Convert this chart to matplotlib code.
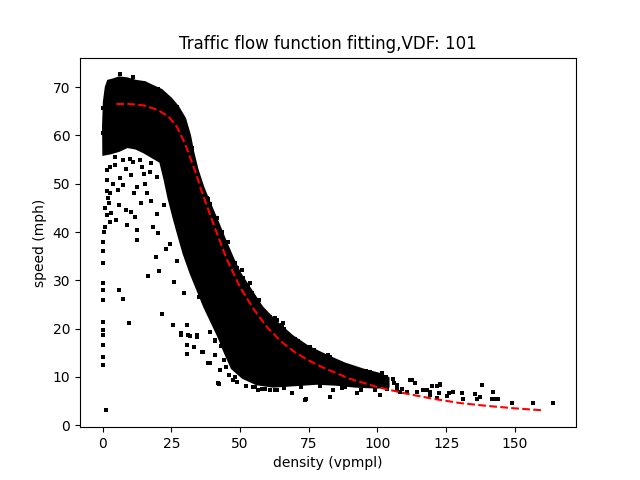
import matplotlib
matplotlib.use("Agg")
import matplotlib.pyplot as plt

# dense core of the measurements, traced as an outline (density, speed)
core_k = [0.5, 1.2, 2, 4, 6, 9, 12, 15.5, 18, 21.5, 25, 27.5, 30, 31.8, 33, 34.5,
          36.5, 39, 42, 44.5, 47.5, 50, 54, 58, 63, 69, 75, 82, 88, 95, 101, 104,
          104, 100, 92, 85, 78, 70, 62, 56, 51, 47, 44.5, 42, 39.5, 37, 34.5, 32,
          29.5, 27.5, 25.8, 24, 22.5, 21, 18, 15, 12, 9, 6, 3, 0.3, 0.2]
core_v = [67, 70, 71.3, 71.6, 72.0, 71.8, 71.3, 71.0, 70.3, 69.4, 67.6, 65.9, 63.5,
          60, 56.5, 53, 49.5, 46, 42, 38.5, 34.5, 31.5, 28, 24.5, 21.5, 18.5, 16.2,
          14.3, 12.8, 11.5, 10.6, 9.8,
          8.0, 7.8, 8.0, 8.4, 8.6, 8.3, 8.0, 8.5, 9.8, 11.8, 15, 18.5, 21.5, 24.5,
          28, 31.5, 35.5, 39.5, 43, 47, 51, 54.5, 55.5, 56.5, 57.3, 57.6, 56.8,
          56.3, 56.0, 62]

# scattered measurements outside the core
pts_k = [6.3, 0, 0, 0.3, 0.3, 0.2, 0.3, 0.2, 0.3, 0.2, 0.3, 0.2, 0.2, 0.2, 0.2, 1.2,
         1.5, 2.0, 2.5, 3.0, 2.7, 1.8, 1.0, 0.5, 0.8,
         1.5, 2.7, 4.5, 7.5, 9.9, 11.1, 8.7, 10.5, 6.3, 3.9, 7.5, 12.4, 15.4, 16.0,
         14.2, 17.8, 17.2, 19.7, 20.9, 2.7, 5.7, 1.5,
         6.0, 8.7, 10.5, 11.8, 12.4, 12.7, 11.4, 16.0, 19.7, 20.2, 19.3, 16.6, 6.0,
         7.5, 9.7, 21.7, 26.1, 27.2, 24.5, 29.7, 25.7, 28.4, 31.2, 34.2, 30.8,
         4.5, 13.5, 15.0, 17.5, 14.0, 9.0, 5.0, 18.5, 22.5, 23.0, 20.5,
         28.5, 31.8, 34.4, 30.8, 30.8, 33.3, 36.4, 39.0, 42.4, 42.7, 47.5, 40.9,
         42.1, 54.8, 56.6, 60.9, 63.3, 68.8, 74.0, 82.7, 88.2, 83.9, 92.4, 100.9,
         82.1, 75.4, 97.3, 101.5, 92.4, 107.0, 111.8, 108.2, 36.2, 38.4, 40.9, 39.0,
         65.1, 62.7, 85.7, 112.4, 107.0, 116.7, 122.7, 119.1, 73.6, 55.4, 59.1, 62.7,
         111.8, 113.7, 108.8, 110.6, 114.3, 117.9, 119.1, 119.7, 121.5, 122.7,
         121.8, 122.5, 125.2, 126.1, 127.4, 130.9, 131.2, 135.5, 136.1, 137.3,
         138.1, 141.9, 141.5, 142.8, 144.0, 149.1, 156.7, 164.0,
         35.5, 38.0, 41.5, 45.5, 49.0, 53.0, 57.0, 61.0, 66.0, 71.0, 77.0, 84.0,
         90.0, 96.0, 103.0, 105.5,
         53.6, 54.2, 63.3, 65.7, 75.4, 82.7, 51.2, 50.6, 39.0, 43.3, 48.1, 38.4,
         32.4, 31.2, 28.1, 24.5, 26.9, 15.4, 20.0, 11.0,
         44.0, 46.0, 49.0, 52.0, 45.0, 48.0, 43.0, 41.0, 58.0, 66.0, 72.0, 79.0,
         87.0, 94.0, 99.0, 103.5, 106.0, 96.0, 89.0, 70.0, 60.0, 56.0, 35.0, 33.5]
pts_v = [72.8, 65.6, 60.4, 38.0, 36.0, 33.5, 29.4, 28.0, 25.9, 21.3, 19.7, 18.6,
         16.6, 14.1, 12.4, 3.1,
         48.5, 47.0, 46.0, 44.0, 42.0, 43.5, 41.0, 40.0, 45.0,
         52.8, 53.5, 53.8, 54.9, 55.2, 54.5, 53.1, 51.8, 51.1, 50.0, 49.7, 49.3,
         50.0, 48.0, 53.5, 54.2, 52.4, 51.4, 54.9, 48.0, 48.7, 50.7,
         45.5, 44.6, 44.2, 43.1, 40.4, 38.3, 48.1, 48.0, 43.8, 39.7, 34.9, 30.8,
         28.1, 26.2, 21.1, 23.1, 29.7, 34.0, 37.6, 27.3, 20.8, 18.6, 18.6, 18.6,
         20.7,
         55.5, 55.0, 52.0, 46.5, 46.0, 41.5, 42.5, 41.0, 45.5, 36.5, 32.0,
         19.0, 18.5, 18.3, 16.6, 14.8, 16.1, 15.2, 12.8, 8.6, 11.4, 9.3, 14.5,
         8.8, 7.9, 7.2, 7.2, 7.4, 6.6, 5.4, 5.9, 7.9, 7.2, 6.6, 6.2,
         14.5, 16.1, 11.0, 10.8, 10.7, 8.3, 9.3, 6.9, 15.2, 12.8, 17.6, 19.3,
         20.7, 22.1, 11.7, 9.3, 7.6, 7.2, 8.3, 6.9, 5.3, 7.9, 7.6, 7.2,
         9.4, 8.8, 7.6, 6.9, 6.9, 7.4, 6.2, 8.1, 8.1, 8.5,
         5.7, 6.6, 6.0, 6.7, 6.8, 6.6, 5.5, 6.4, 5.5, 5.9,
         8.3, 6.8, 5.5, 5.5, 5.5, 4.7, 4.7, 4.7,
         50.5, 47.0, 43.0, 38.0, 32.5, 29.0, 26.0, 22.5, 20.0, 17.5, 15.5, 13.5,
         12.0, 11.0, 10.0, 9.6,
         29.4, 27.3, 21.7, 21.1, 16.2, 14.1, 30.4, 32.1, 45.9, 40.0, 33.5, 46.9,
         57.3, 59.7, 61.1, 66.9, 65.9, 70.7, 69.5, 72.0,
         13.5, 10.5, 9.0, 8.2, 12.0, 10.0, 16.5, 17.5, 7.6, 7.8, 7.9, 8.1,
         7.8, 7.4, 7.2, 7.6, 8.7, 11.2, 12.3, 17.8, 22.6, 25.6, 26.5, 30.0]

# fitted speed-density curve
fit_k = [5, 10, 15, 20, 24, 27, 30, 32, 34, 36, 40, 45, 50, 55, 60, 65, 70, 75,
         80, 90, 100, 110, 120, 130, 140, 150, 160]
fit_v = [66.5, 66.5, 66.2, 65.3, 63.9, 61.8, 58.3, 55.2, 52.1, 48.5, 42.2, 34.6,
         28.6, 24.0, 20.2, 17.3, 15.1, 13.4, 12.0, 9.6, 7.9, 6.6, 5.5, 4.6, 4.0,
         3.5, 3.1]

fig, ax = plt.subplots(figsize=(6.4, 4.8), dpi=100)
ax.fill(core_k, core_v, color='k', lw=1.5, ec='k')
ax.scatter(pts_k, pts_v, s=6, marker='s', c='k', linewidths=0)
ax.plot(fit_k, fit_v, 'r--')

ax.set_xlim(-8.2, 172.2)
ax.set_ylim(-0.4, 76.1)
ax.set_xticks([0, 25, 50, 75, 100, 125, 150])
ax.set_yticks([0, 10, 20, 30, 40, 50, 60, 70])
plt.title('Traffic flow function fitting,VDF: 101')
plt.xlabel('density (vpmpl)')
plt.ylabel('speed (mph)')

plt.savefig('out.png')
